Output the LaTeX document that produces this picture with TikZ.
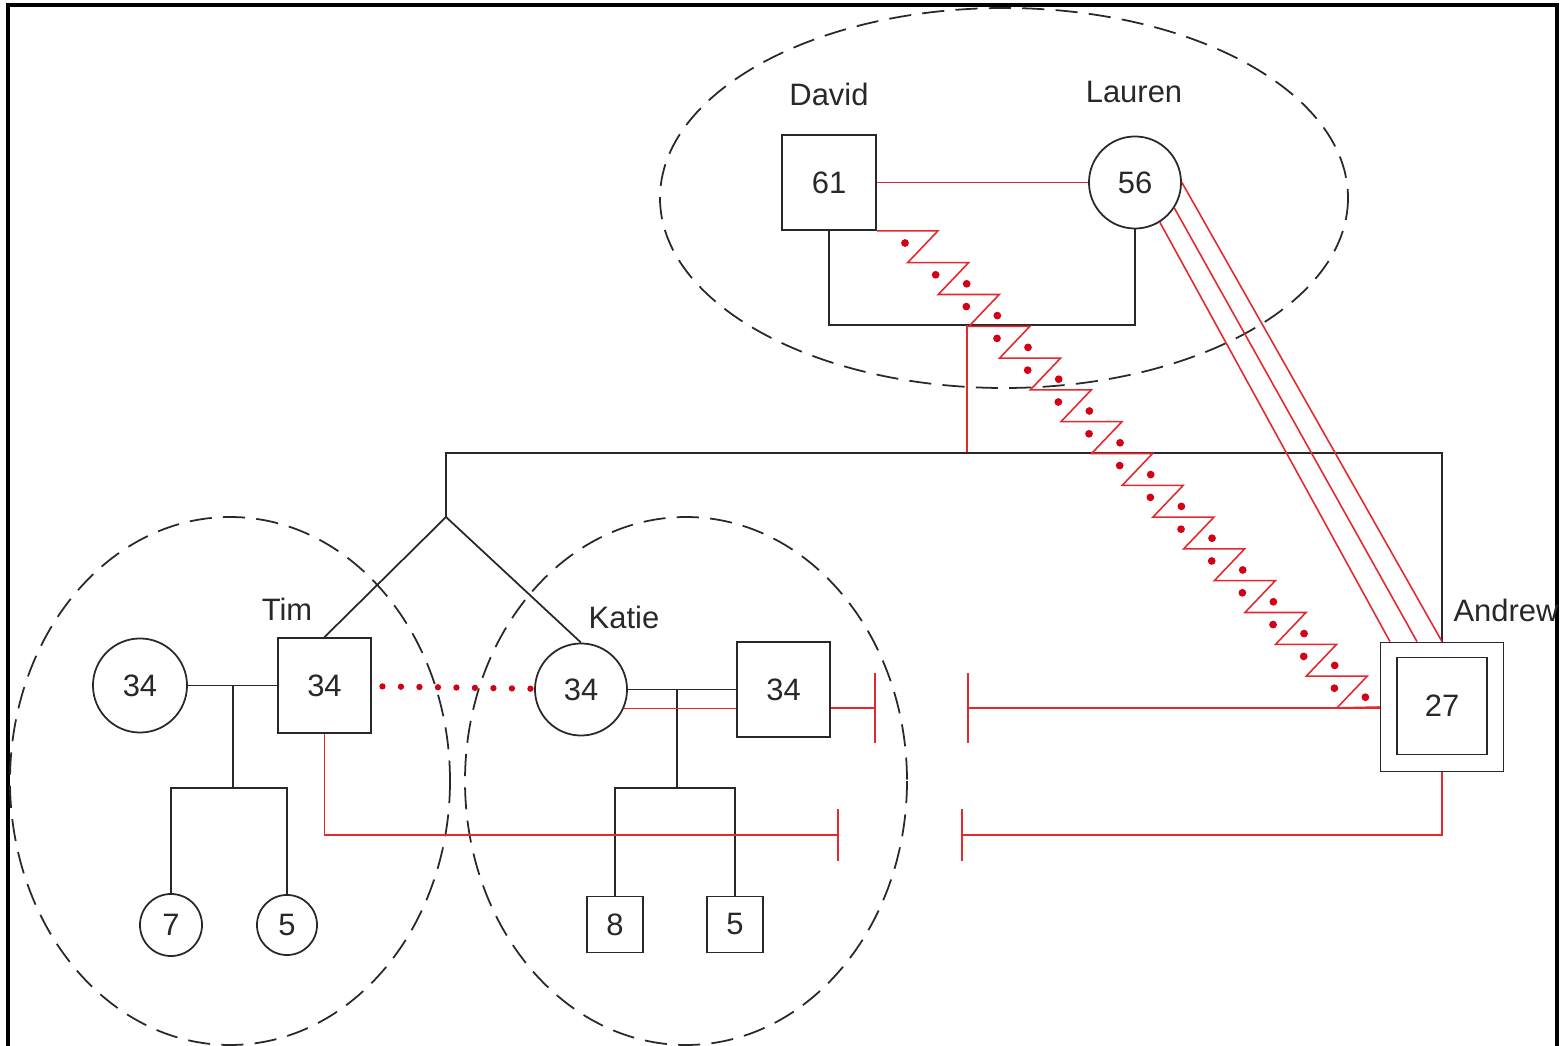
\documentclass[tikz,border=0pt]{standalone}
\usepackage{fontspec}
\setmainfont{Liberation Sans}
\usetikzlibrary{arrows.meta}
\definecolor{relred}{RGB}{228,40,46}
\definecolor{dotred}{RGB}{212,0,22}
\definecolor{ink}{RGB}{40,40,40}

\begin{document}
\begin{tikzpicture}[x=0.01cm,y=-0.01cm,
  every node/.style={font=\fontsize{8.8}{10}\selectfont,text=ink},
  sq/.style={draw=ink,line width=0.5pt,rectangle,inner sep=0pt},
  circ/.style={draw=ink,line width=0.5pt,circle,inner sep=0pt},
  ln/.style={draw=ink,line width=0.5pt},
  rel/.style={draw=relred,line width=0.45pt},
  cut/.style={rel,-{Bar[width=#1,line width=0.6pt]}},
  reddots/.style={draw=dotred,line width=1.8pt,line cap=round,dash pattern=on 0pt off 5.26pt},
  zdot/.style={fill=dotred},
  cluster/.style={draw=ink,line width=0.5pt,dash pattern=on 6.3pt off 3.2pt}]
  \useasboundingbox (0,0) rectangle (1563,1046);
  \draw[line width=0.9pt] (8,1046) -- (8,5) -- (1557,5) -- (1557,1046);

  \draw[cluster] (1004,198) ellipse [x radius=344,y radius=190];
  \draw[cluster] (230,781) ellipse [x radius=220,y radius=264];
  \draw[cluster] (686,781) ellipse [x radius=221,y radius=264];

  \node[sq,minimum width=0.94cm,minimum height=0.95cm] (david) at (829,182.5) {61};
  \node[circ,minimum size=0.92cm] (lauren) at (1135,182.5) {56};
  \node[sq,minimum width=1.23cm,minimum height=1.29cm] (andrew) at (1442,707) {};
  \node[sq,minimum width=0.9cm,minimum height=0.97cm] (andrewin) at (1442,706) {27};
  \node[circ,minimum size=0.94cm] (timwife) at (140,685.5) {34};
  \node[sq,minimum width=0.93cm,minimum height=0.95cm] (tim) at (324.5,685.5) {34};
  \node[circ,minimum size=0.92cm] (katie) at (581,689.5) {34};
  \node[sq,minimum width=0.93cm,minimum height=0.95cm] (katiehusb) at (783.5,689.5) {34};
  \node[circ,minimum size=0.62cm] (kid7) at (171,925) {7};
  \node[circ,minimum size=0.6cm] (kid5a) at (287,925) {5};
  \node[sq,minimum size=0.56cm] (kid8) at (615,924.5) {8};
  \node[sq,minimum size=0.56cm] (kid5b) at (735,924.5) {5};

  \node (davidname) at (829,94) {David};
  \node (laurenname) at (1134,92) {Lauren};
  \node (timname) at (287,609) {Tim};
  \node (katiename) at (624,617) {Katie};
  \node (andrewname) at (1506,610) {Andrew};

  \coordinate (pmid) at (967,325);
  \coordinate (sibbar) at (446,453);
  \coordinate (apex) at (446,517);
  \coordinate (tdrop) at (233,685.5);
  \coordinate (tsib) at (233,788);
  \coordinate (kdrop) at (677,689.5);
  \coordinate (ksib) at (677,788);
  \coordinate (cutA) at (876,708);
  \coordinate (cutB) at (967,708);
  \coordinate (cutC) at (839,835);
  \coordinate (cutD) at (961,835);

  \draw[rel] (david) -- (lauren);
  \draw[ln] (david) |- (pmid) -| (lauren);
  \draw[rel] (pmid) -- (pmid |- sibbar);
  \draw[ln] (apex) -- (sibbar) -- (sibbar -| andrew.north) -- (andrew.north);
  \draw[ln] (tim.north) -- (apex) -- (katie.north);

  \draw[rel] (lauren.0) -- (andrew.north);
  \draw[rel] (lauren.-33) -- ([xshift=-0.25cm]andrew.north);
  \draw[rel] (lauren.-58) -- ([xshift=-0.52cm]andrew.north);

  \draw[rel] (david.south east) \foreach \i in {1,...,15} { -- ++(61,0) -- ++(-30.33,31.8) } -- (andrew.west);
  \foreach \i in {0,...,14} \fill[zdot] (905+30.67*\i,243+31.8*\i) circle[radius=1.1pt];
  \foreach \i in {1,...,14} \fill[zdot] (936+30.67*\i,252+31.8*\i) circle[radius=1.1pt];

  \draw[ln] (timwife) -- (tim);
  \draw[ln] (tdrop) -- (tsib);
  \draw[ln] (kid7) |- (tsib) -| (kid5a);
  \draw[reddots,shorten <=3pt] (tim) -- (katie);

  \draw[ln] (katie) -- (katiehusb);
  \draw[ln] (kdrop) -- (ksib);
  \draw[ln] (kid8) |- (ksib) -| (kid5b);
  \draw[rel] (katie.-24) -- (katie.-24 -| katiehusb.west);

  \draw[cut=20pt] (katiehusb.east |- cutA) -- (cutA);
  \draw[cut=20pt] (andrew.west |- cutB) -- (cutB);
  \draw[cut=15pt] (tim.south) |- (cutC);
  \draw[cut=15pt] (andrew.south) |- (cutD);
\end{tikzpicture}
\end{document}
